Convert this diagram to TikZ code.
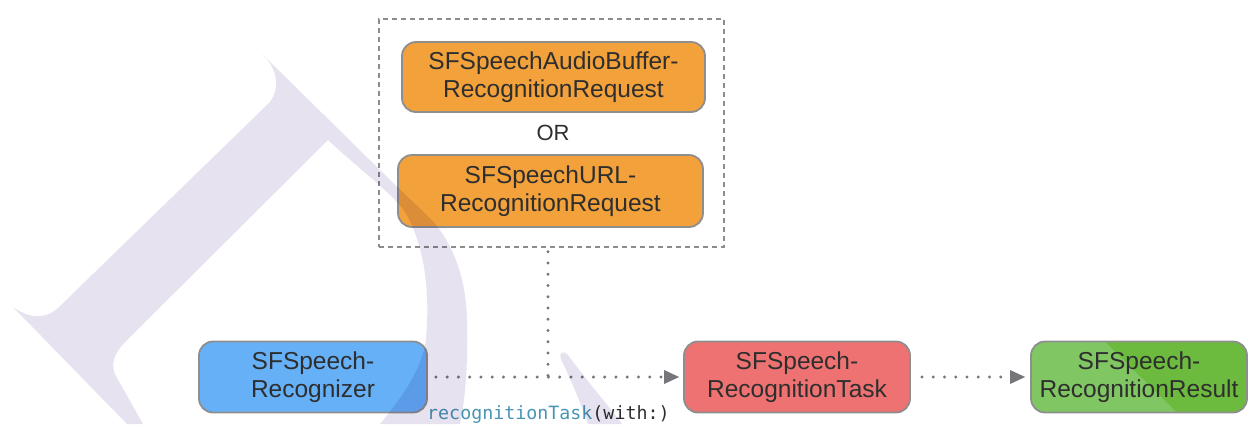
\documentclass[tikz,border=0pt]{standalone}
\usepackage{fontspec}
\setmainfont{Liberation Sans}
\newfontfamily\monofont{DejaVu Sans Mono}
\usetikzlibrary{arrows.meta}

\definecolor{boxline}{HTML}{8E8E8E}
\definecolor{boxtext}{HTML}{2E2E2E}
\definecolor{reqorange}{HTML}{F2A13B}
\definecolor{recblue}{HTML}{66B0F7}
\definecolor{taskred}{HTML}{EE7272}
\definecolor{reslight}{HTML}{80C662}
\definecolor{resdark}{HTML}{6CBB3E}
\definecolor{dotgray}{HTML}{76767A}
\definecolor{dashgray}{HTML}{8C8C8C}
\definecolor{methodblue}{HTML}{4A95B5}
\definecolor{lavender}{HTML}{E7E2EF}

\tikzset{
  box/.style={draw=boxline, line width=1.8pt, rounded corners=14pt,
    inner sep=0pt, align=center, text=boxtext,
    font=\fontsize{24.5}{28.5}\selectfont},
  groupbox/.style={draw=dashgray, line width=1.5pt, dash pattern=on 5pt off 4pt,
    inner sep=0pt, minimum width=345pt, minimum height=228pt},
  dotline/.style={draw=dotgray, line width=3.3pt, line cap=round,
    dash pattern=on 0pt off 11.25pt},
  flowtip/.style={-{Triangle[length=15pt,width=14pt,line width=0pt]}},
  lettermark/.style={fill=lavender}
}

\begin{document}
\begin{tikzpicture}[x=1pt,y=-1pt]
  \useasboundingbox (0,0) rectangle (1249,424);
  \fill[white] (0,0) rectangle (1249,424);

  % request group
  \node[groupbox] (grp) at (551.5,133) {};
  \node[box, fill=reqorange, minimum width=303pt, minimum height=70pt]
    (audio) at (553.5,77) {SFSpeechAudioBuffer-\\RecognitionRequest};
  \node[text=boxtext, font=\fontsize{22}{22}\selectfont] (or) at (553,133) {OR};
  \node[box, fill=reqorange, minimum width=305pt, minimum height=72pt]
    (url) at (550.5,191) {SFSpeechURL-\\RecognitionRequest};

  % pipeline
  \node[box, fill=recblue, minimum width=228pt, minimum height=71pt]
    (recognizer) at (313,377) {SFSpeech-\\Recognizer};
  \node[box, fill=taskred, minimum width=226pt, minimum height=71pt]
    (task) at (797,377) {SFSpeech-\\RecognitionTask};
  \node[box, fill=reslight, minimum width=216pt, minimum height=71pt,
    path picture={\fill[resdark, sharp corners]
      ([xshift=74pt]path picture bounding box.north west)
      -- ([xshift=5pt,yshift=5pt]path picture bounding box.north east)
      -- ([xshift=5pt,yshift=-5pt]path picture bounding box.south east)
      -- ([xshift=146pt]path picture bounding box.south west) -- cycle;}]
    (result) at (1139,377) {SFSpeech-\\RecognitionResult};

  % connectors
  \coordinate (join) at (548,377);
  \draw[dotline] ([yshift=-4]grp.south -| join) -- (join);
  \draw[dotline, flowtip] ([xshift=8]recognizer.east) -- ([xshift=-4]task.west);
  \draw[dotline, flowtip] ([xshift=11]task.east) -- ([xshift=-5]result.west);

  \node[anchor=base west, inner sep=0pt, font=\monofont\fontsize{18.3}{18.3}\selectfont]
    (call) at (427,419) {\textcolor{methodblue}{recognitionTask}\textcolor{boxtext}{(with:)}};

  % background letter mark, multiplied over everything
  \begin{scope}[blend mode=multiply]
    \fill[lettermark] (13,307) .. controls (28,318) and (45,320) .. (58,308)
      -- (268,104) .. controls (280,92) and (279,70) .. (263,55)
      -- (383,173) .. controls (410,200) and (425,212) .. (437,226)
      .. controls (455,250) and (466,280) .. (467,320)
      .. controls (468,360) and (466,395) .. (460,424)
      -- (380,424) .. controls (400,400) and (422,370) .. (426,340)
      .. controls (430,290) and (425,250) .. (407,215)
      .. controls (395,195) and (360,170) .. (328,140)
      -- (127,340) .. controls (112,355) and (110,366) .. (117,378)
      -- (143,424) -- (127,424) -- cycle;
    \fill[lettermark] (588,424) .. controls (578,395) and (567,372) .. (561,359)
      .. controls (558,352) and (564,350) .. (568,355)
      .. controls (590,385) and (608,405) .. (622,424) -- cycle;
  \end{scope}
\end{tikzpicture}
\end{document}
